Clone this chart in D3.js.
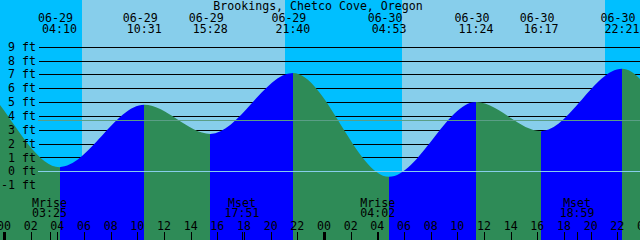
<!DOCTYPE html>
<html>
<head>
<meta charset="utf-8">
<script src="https://cdn.jsdelivr.net/npm/d3@7"></script>
<style>
  html, body { margin: 0; padding: 0; background: #fff; }
  svg { display: block; }
  text { font-family: "DejaVu Sans Mono", monospace; font-size: 11.6px; fill: #000; }
</style>
</head>
<body>
<svg id="chart" width="640" height="240"></svg>
<script>
const title = "Brookings, Chetco Cove, Oregon";

// tide extremes; the first two and last two lie outside the window
const tideStamps = ["06-28 14:40", "06-28 21:00", "06-29 04:10", "06-29 10:31", "06-29 15:28", "06-29 21:40",
                    "06-30 04:53", "06-30 11:24", "06-30 16:17", "06-30 22:21", "07-01 05:35", "07-01 12:15"];
const tideHeights = [2.5, 6.9, 0.3, 4.8, 2.7, 7.1, -0.4, 5.0, 2.9, 7.4, -0.6, 5.2];

// sunrise / sunset
const sunriseStamps = ["06-29 05:50", "06-30 05:52"];
const sunsetStamps = ["06-29 21:05", "06-30 21:05"];

// moon rise / set
const moonStamps = ["06-29 03:25", "06-29 17:51", "06-30 04:02", "06-30 18:59"];
const moonKinds = ["Mrise", "Mset", "Mrise", "Mset"];

const depthTicks = [-1, 0, 1, 2, 3, 4, 5, 6, 7, 8, 9];
const meanLevel = 3.68;
const windowStart = "06-28 23:42";
const windowEnd = "06-30 23:42";

const colors = {
    day: "#87ceeb", night: "#00bfff",
    rise: "#0000ff", fall: "#2e8b57",
    datum: "#87ceeb", mean: "#5a9e86"
};

const W = 640, H = 240;
const parse = d3.utcParse("%m-%d %H:%M");
const fmtTime = d3.utcFormat("%H:%M");
const fmtDate = d3.utcFormat("%m-%d");

const t0 = parse(windowStart), t1 = parse(windowEnd);
const x = d3.scaleUtc().domain([t0, t1]).range([0, W]);
const y = d3.scaleLinear().domain([-1, 9]).range([185.15, 46.7]);

const tides = tideStamps.map((s, i) => ({ t: parse(s), h: tideHeights[i] }));

const svg = d3.select("#chart");

//----------------------------------------------------------------------------------
// sky: day / night

svg.append("rect").attr("x", 0).attr("y", 0).attr("width", W).attr("height", H)
    .attr("fill", colors.day);

let nights = [];
let sunrises = sunriseStamps.map(parse), sunsets = sunsetStamps.map(parse);
nights.push([t0, sunrises[0]]);
nights.push([sunsets[0], sunrises[1]]);
nights.push([sunsets[1], t1]);

svg.append("g").selectAll("rect").data(nights).join("rect")
    .attr("x", d => Math.round(x(d[0])))
    .attr("y", 0)
    .attr("width", d => Math.round(x(d[1])) - Math.round(x(d[0])))
    .attr("height", H)
    .attr("fill", colors.night);

// depth lines (behind the water)
svg.append("g").attr("shape-rendering", "crispEdges")
    .selectAll("line").data(depthTicks).join("line")
    .attr("x1", 39).attr("x2", W)
    .attr("y1", d => Math.round(y(d)) + 0.5)
    .attr("y2", d => Math.round(y(d)) + 0.5)
    .attr("stroke", "#000");

//----------------------------------------------------------------------------------
// water, blue while rising, green while falling

let area = d3.area()
    .x(d => x(d.t))
    .y0(H)
    .y1(d => y(d.h))
    .curve(d3.curveMonotoneX);

svg.append("clipPath").attr("id", "water")
    .append("path").attr("d", area(tides));

let segments = d3.pairs(tides);
svg.append("g").attr("clip-path", "url(#water)").attr("shape-rendering", "crispEdges")
    .selectAll("rect").data(segments).join("rect")
    .attr("x", d => Math.round(x(d[0].t)))
    .attr("y", 0)
    .attr("width", d => Math.round(x(d[1].t)) - Math.round(x(d[0].t)))
    .attr("height", H)
    .attr("fill", d => d[1].h > d[0].h ? colors.rise : colors.fall);

// datum and mean level on top
svg.append("line").attr("shape-rendering", "crispEdges")
    .attr("x1", 38).attr("x2", W)
    .attr("y1", Math.round(y(0)) + 0.5).attr("y2", Math.round(y(0)) + 0.5)
    .attr("stroke", colors.datum);
svg.append("line").attr("shape-rendering", "crispEdges")
    .attr("x1", 38).attr("x2", W)
    .attr("y1", Math.round(y(meanLevel)) + 0.5).attr("y2", Math.round(y(meanLevel)) + 0.5)
    .attr("stroke", colors.mean);

// depth labels
svg.append("g").selectAll("text").data(depthTicks).join("text")
    .attr("x", 36)
    .attr("y", d => y(d))
    .attr("dy", "0.35em")
    .attr("text-anchor", "end")
    .text(d => d + " ft");

//----------------------------------------------------------------------------------
// title and extreme labels

svg.append("text").attr("x", 318).attr("y", 10).attr("text-anchor", "middle").text(title);

let shown = tides.filter(d => d.t >= t0 && d.t <= t1);
let tideLabels = svg.append("g").selectAll("g").data(shown).join("g");
tideLabels.append("text")
    .attr("x", d => x(d.t) - 4).attr("y", 22)
    .attr("text-anchor", "middle")
    .text(d => fmtDate(d.t));
tideLabels.append("text")
    .attr("x", d => x(d.t)).attr("y", 33)
    .attr("text-anchor", "middle")
    .text(d => fmtTime(d.t));

//----------------------------------------------------------------------------------
// hour axis along the bottom

let hours = d3.utcHour.every(2).range(t0, d3.utcHour.offset(t1, 1));

let ticks = svg.append("g").attr("shape-rendering", "crispEdges");
ticks.selectAll("line.hour").data(hours).join("line")
    .attr("class", "hour")
    .attr("x1", d => Math.round(x(d)) + 0.5).attr("x2", d => Math.round(x(d)) + 0.5)
    .attr("y1", 232).attr("y2", H)
    .attr("stroke", "#000")
    .attr("stroke-width", d => d.getUTCHours() === 0 ? 3 : 1);

svg.append("g").selectAll("text").data(hours).join("text")
    .attr("x", d => x(d)).attr("y", 230)
    .attr("text-anchor", "middle")
    .text(d3.utcFormat("%H"));

// moon rise / set
let moons = moonStamps.map((s, i) => ({ t: parse(s), kind: moonKinds[i] }));
ticks.selectAll("line.moon").data(moons).join("line")
    .attr("class", "moon")
    .attr("x1", d => Math.round(x(d.t)) + 0.5).attr("x2", d => Math.round(x(d.t)) + 0.5)
    .attr("y1", 232).attr("y2", H)
    .attr("stroke", "#000");

let moonLabels = svg.append("g").selectAll("g").data(moons).join("g");
moonLabels.append("text")
    .attr("x", d => x(d.t)).attr("y", 207)
    .attr("text-anchor", "middle")
    .text(d => d.kind);
moonLabels.append("text")
    .attr("x", d => x(d.t)).attr("y", 217)
    .attr("text-anchor", "middle")
    .text(d => fmtTime(d.t));
</script>
</body>
</html>
